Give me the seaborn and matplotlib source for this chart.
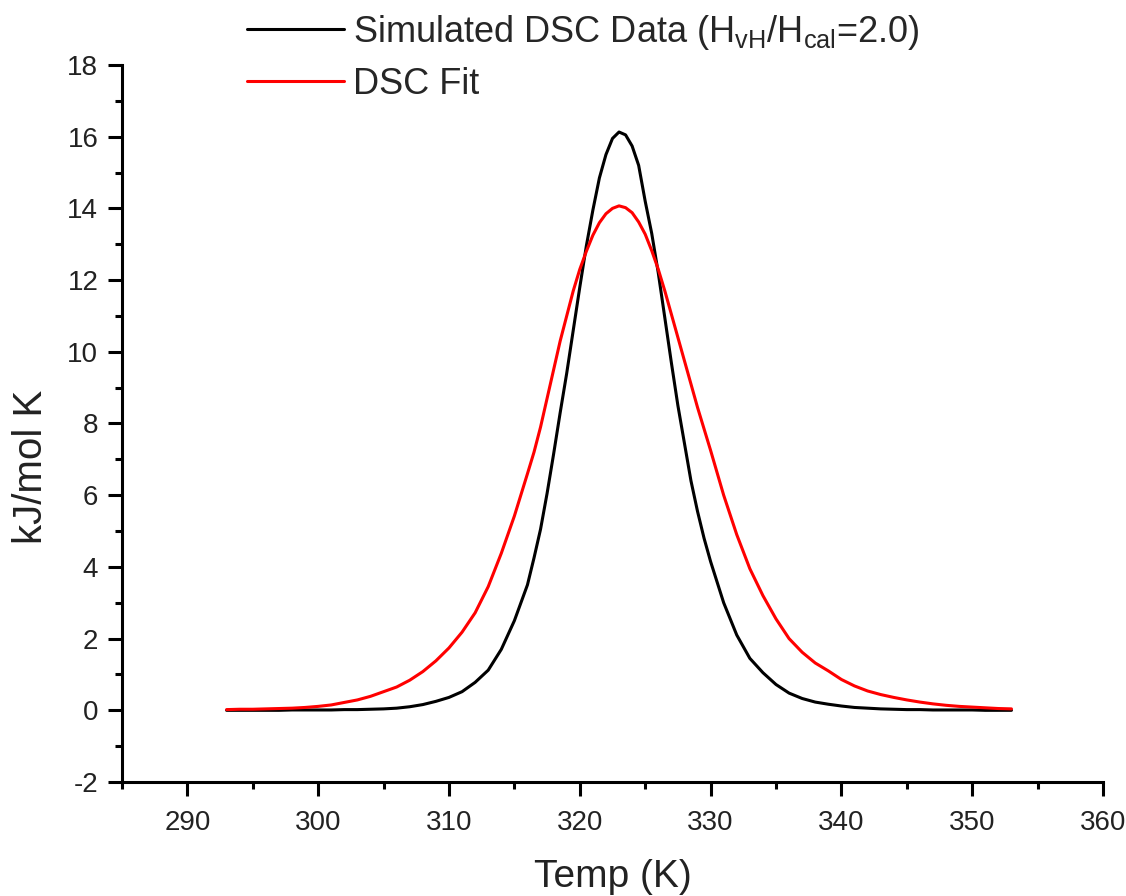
import matplotlib
matplotlib.use("Agg")
import matplotlib.pyplot as plt
import seaborn as sns
import numpy as np
import pandas as pd
from matplotlib.ticker import MultipleLocator

temps = [293, 294, 295, 296, 297, 298, 299, 300, 301, 302, 303, 304, 305,
         306, 307, 308, 309, 310, 311, 312, 313, 314, 315, 316,
         316.5, 317, 317.5, 318, 318.5, 319, 319.5, 320, 320.5, 321, 321.5,
         322, 322.5, 323, 323.5, 324, 324.5, 325, 325.5, 326, 326.5, 327,
         327.5, 328, 328.5, 329, 329.5, 330,
         331, 332, 333, 334, 335, 336, 337, 338, 339, 340, 341, 342, 343,
         344, 345, 346, 347, 348, 349, 350, 351, 352, 353]

sim_dsc = [0.00, 0.00, 0.00, 0.00, 0.00, 0.01, 0.01, 0.01, 0.01, 0.02, 0.02,
           0.03, 0.04, 0.06, 0.10, 0.16, 0.25, 0.36, 0.52, 0.78, 1.12, 1.70,
           2.50, 3.50,
           4.25, 5.05, 6.05, 7.15, 8.30, 9.40, 10.60, 11.80, 12.95, 13.95,
           14.85, 15.50, 15.95, 16.13, 16.05, 15.74, 15.20, 14.20, 13.30,
           12.20, 10.95, 9.70, 8.50, 7.45, 6.40, 5.55, 4.80, 4.15,
           3.00, 2.10, 1.45, 1.05, 0.72, 0.48, 0.33, 0.23, 0.17, 0.12, 0.08,
           0.06, 0.04, 0.03, 0.02, 0.02, 0.01, 0.01, 0.01, 0.01, 0.00, 0.00,
           0.00]

dsc_fit = [0.02, 0.03, 0.03, 0.04, 0.05, 0.06, 0.08, 0.11, 0.15, 0.22, 0.29,
           0.39, 0.52, 0.65, 0.84, 1.08, 1.38, 1.74, 2.18, 2.72, 3.45, 4.38,
           5.42, 6.60,
           7.20, 7.90, 8.70, 9.50, 10.30, 11.00, 11.70, 12.30, 12.80, 13.25,
           13.60, 13.85, 14.00, 14.07, 14.02, 13.88, 13.62, 13.28, 12.82,
           12.30, 11.70, 11.05, 10.40, 9.75, 9.10, 8.45, 7.85, 7.25,
           6.00, 4.90, 3.95, 3.20, 2.55, 2.00, 1.62, 1.32, 1.10, 0.86, 0.68,
           0.54, 0.44, 0.36, 0.29, 0.23, 0.18, 0.14, 0.11, 0.09, 0.07, 0.05,
           0.04]

label_sim = r"Simulated DSC Data (H$_\mathregular{vH}$/H$_\mathregular{cal}$=2.0)"
label_fit = "DSC Fit"

df = pd.DataFrame({
    "Temp": temps + temps,
    "value": sim_dsc + dsc_fit,
    "series": [label_sim] * len(temps) + [label_fit] * len(temps),
})

sns.set_theme(style="ticks")
plt.rcParams["font.family"] = ["Liberation Sans", "DejaVu Sans"]
plt.rcParams["mathtext.fontset"] = "custom"
plt.rcParams["mathtext.rm"] = "Liberation Sans"
plt.rcParams["mathtext.it"] = "Liberation Sans"
plt.rcParams["axes.unicode_minus"] = False

fig = plt.figure(figsize=(11.26, 8.96), dpi=100)
ax = fig.add_axes([0.1083, 0.1272, 0.9796 - 0.1083, 0.9275 - 0.1272])

sns.lineplot(data=df, x="Temp", y="value", hue="series",
             palette={label_sim: "#000000", label_fit: "#ff0000"},
             linewidth=2.2, ax=ax, legend=True)

ax.set_xlim(285, 360)
ax.set_ylim(-2, 18)
ax.xaxis.set_major_locator(MultipleLocator(10))
ax.xaxis.set_minor_locator(MultipleLocator(5))
ax.yaxis.set_major_locator(MultipleLocator(2))
ax.yaxis.set_minor_locator(MultipleLocator(1))

for s in ["top", "right"]:
    ax.spines[s].set_visible(False)
for s in ["left", "bottom"]:
    ax.spines[s].set_linewidth(2.2)
    ax.spines[s].set_color("black")

ax.tick_params(which="major", direction="out", length=10, width=2.2,
               labelsize=20, colors="black", labelcolor="#222222", pad=7)
ax.tick_params(which="minor", direction="out", length=5, width=2.2, colors="black")
ax.tick_params(axis="x", which="major", pad=10)

ax.set_xlabel("Temp (K)", fontsize=28, color="#222222")
ax.set_ylabel("kJ/mol K", fontsize=29, color="#222222")
ax.xaxis.set_label_coords(0.5, -0.107)
ax.yaxis.set_label_coords(-0.073, 0.44)

handles, labels = ax.get_legend_handles_labels()
ax.legend_.remove()
fig.legend(handles, labels, loc="upper left",
           bbox_to_anchor=(0.216, 0.99), frameon=False, fontsize=26,
           handlelength=2.7, handletextpad=0.25, labelspacing=0.43,
           borderpad=0.1, borderaxespad=0.0)

fig.savefig("out.png", dpi=100)
